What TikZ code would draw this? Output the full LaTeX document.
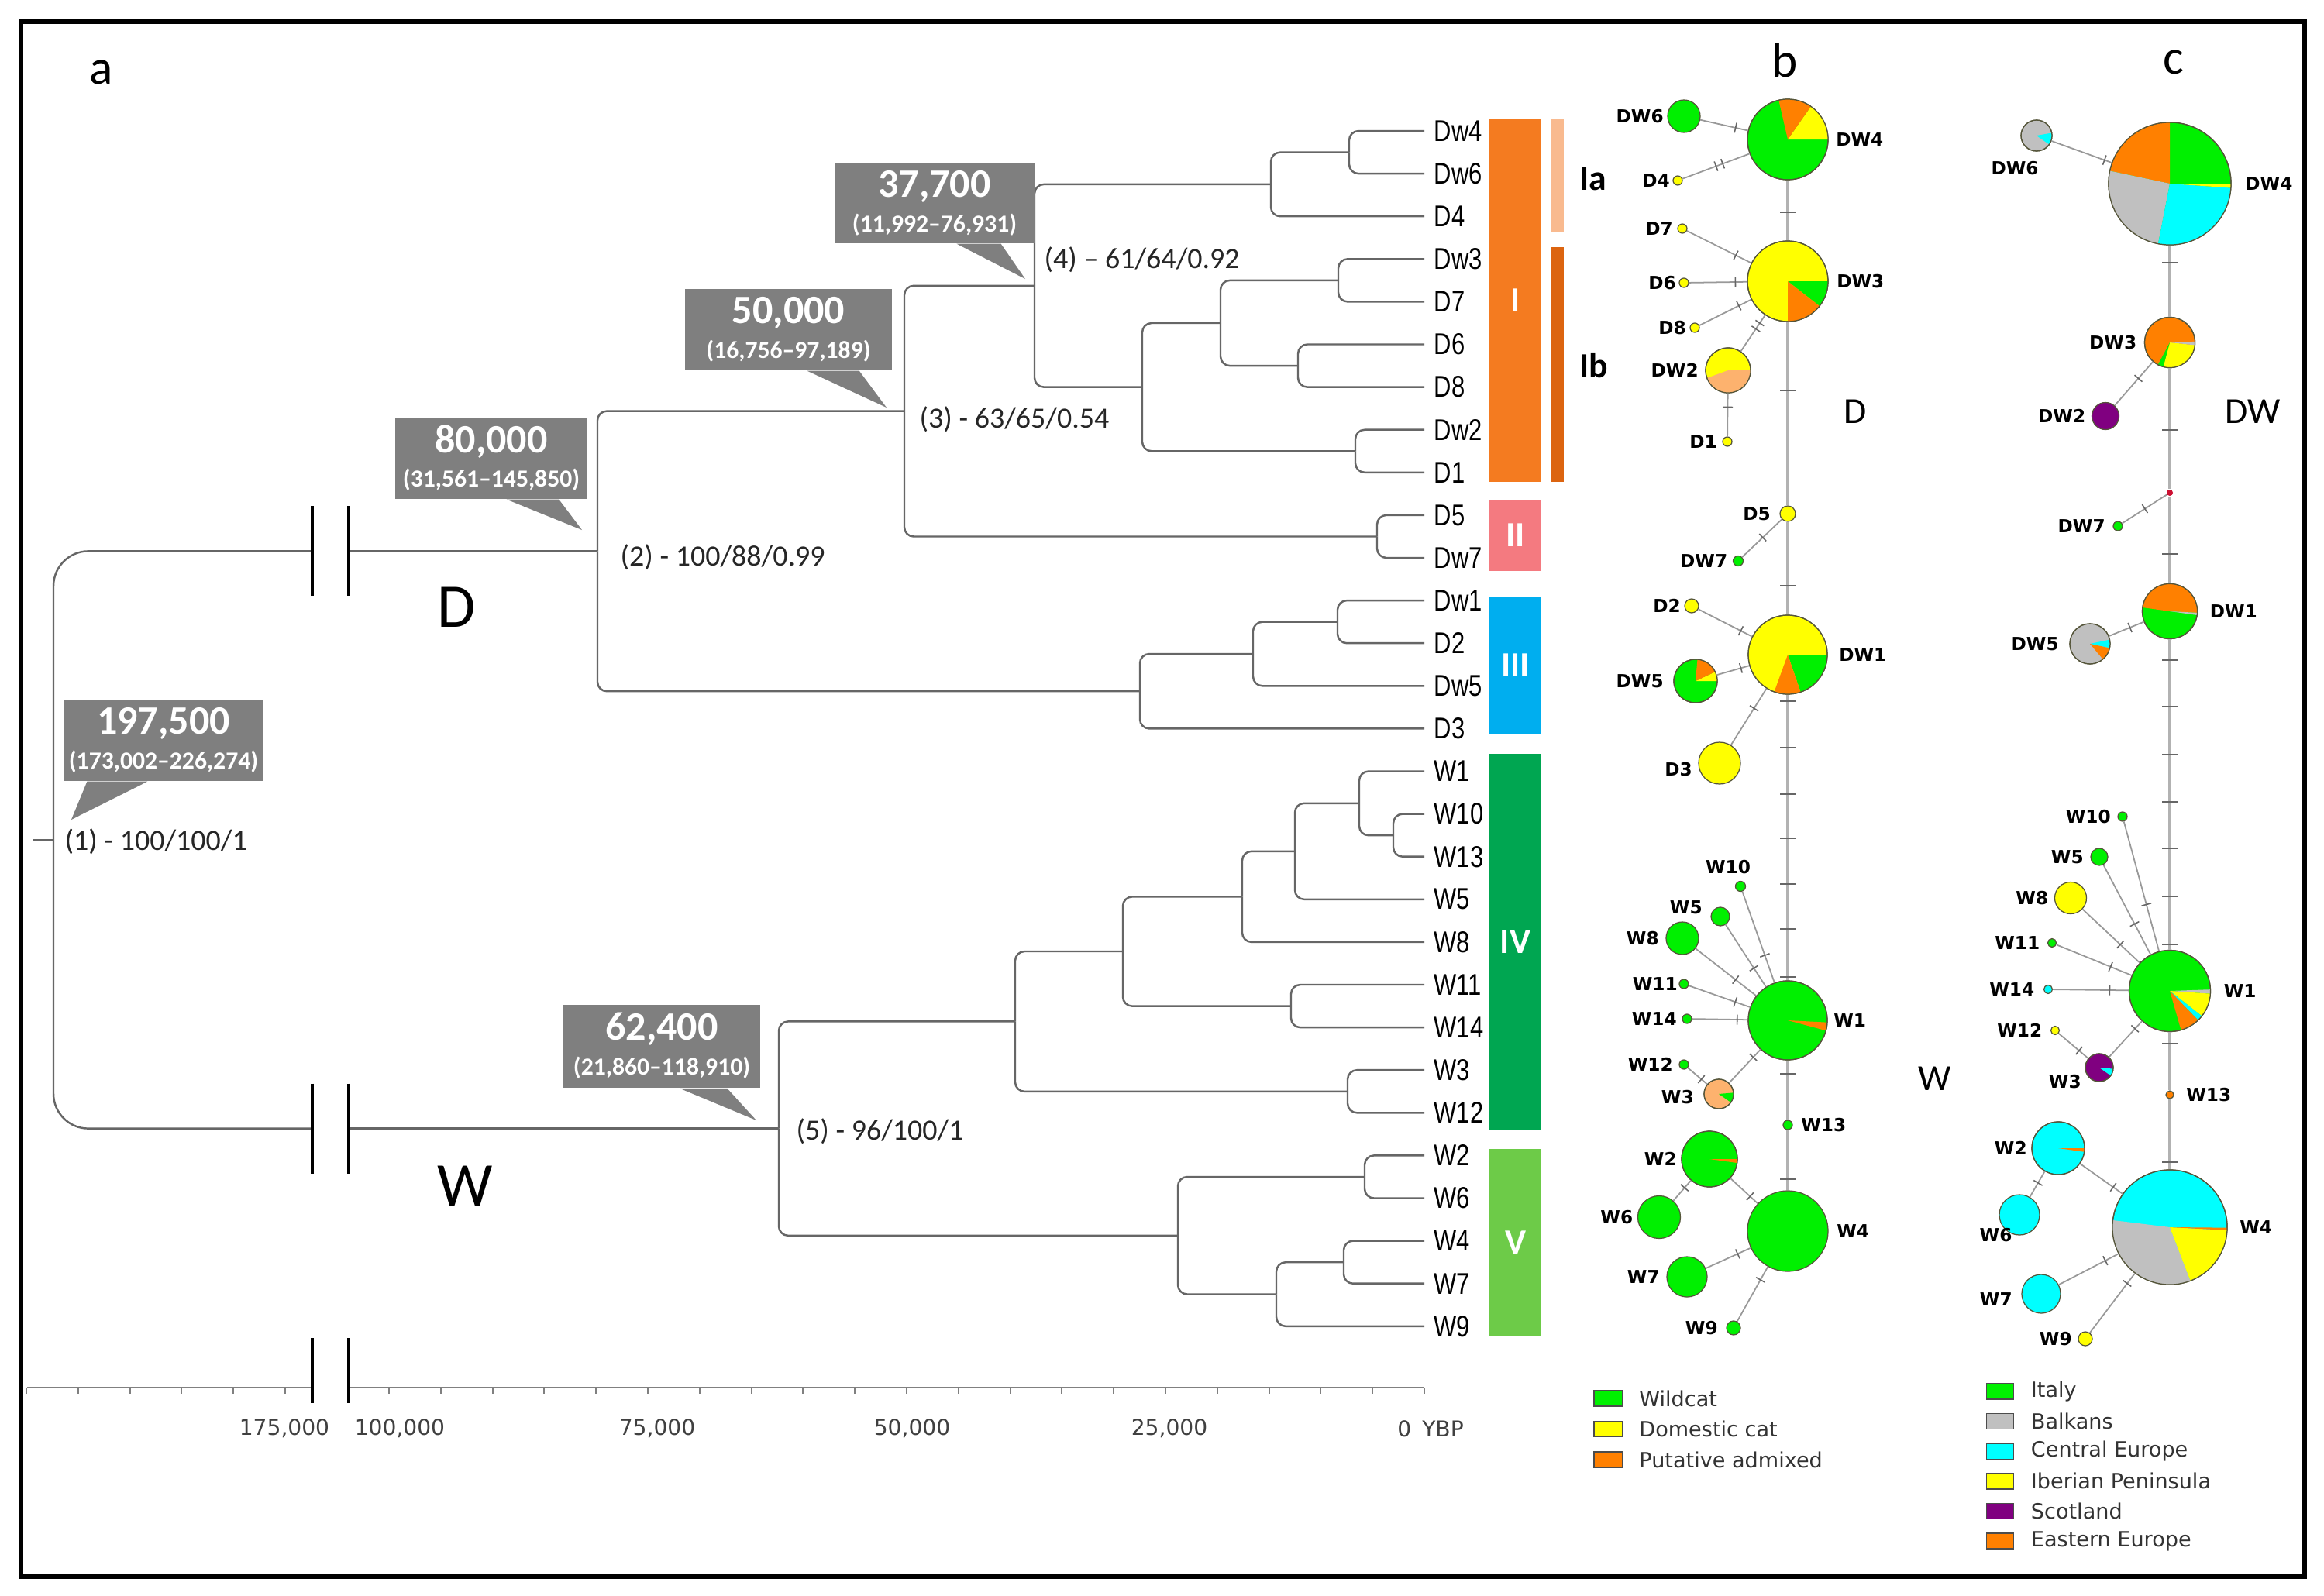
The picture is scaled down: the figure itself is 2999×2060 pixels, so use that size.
\documentclass[tikz,border=0pt]{standalone}
\usepackage{fontspec}
\setmainfont{Carlito}
\newfontfamily\leaffont[FakeStretch=0.8]{Liberation Sans}
\newfontfamily\netfont{DejaVu Sans}
\usetikzlibrary{positioning,calc}

\definecolor{treegray}{HTML}{666666}
\definecolor{kgray}{HTML}{7F7F7F}
\definecolor{cI}{HTML}{F47B20}
\definecolor{cIa}{HTML}{F9BA8F}
\definecolor{cIb}{HTML}{DC6410}
\definecolor{cII}{HTML}{F47A80}
\definecolor{cIII}{HTML}{00AEEF}
\definecolor{cIV}{HTML}{00A651}
\definecolor{cV}{HTML}{6DCB48}
\definecolor{pgreen}{HTML}{00F000}
\definecolor{pyellow}{HTML}{FFFF00}
\definecolor{porange}{HTML}{FF8000}
\definecolor{ppeach}{HTML}{FDB26E}
\definecolor{pgrey}{HTML}{C0C0C0}
\definecolor{pcyan}{HTML}{00FFFF}
\definecolor{ppurple}{HTML}{800080}
\definecolor{pred}{HTML}{CC1133}
\definecolor{rimc}{HTML}{55553A}

% pie pieces
\newcommand{\pieslice}[5]{\fill[#5] (#1.center) -- ++(#3:#2) arc[start angle=#3, end angle=#4, radius=#2] -- cycle;}
\newcommand{\pierim}[2]{\draw[rimc, line width=0.35pt] (#1.center) circle[radius=#2];}

\begin{document}
\begin{tikzpicture}[x=0.01cm, y=-0.01cm,
  branch/.style={draw=treegray, line width=0.7pt, rounded corners=0.12cm},
  brk/.style={draw=black, line width=0.9pt},
  leaf/.style={anchor=west, inner xsep=0.12cm, inner ysep=0pt, text=black,
    font=\leaffont\fontsize{11}{13}\selectfont},
  supp/.style={anchor=west, inner sep=0pt, text=black!85, font=\fontsize{10.8}{12}\selectfont},
  kbox/.style={fill=kgray, inner sep=0pt},
  knum/.style={text=white, inner sep=0pt, font=\bfseries\fontsize{14.8}{16}\selectfont},
  ksub/.style={text=white, inner sep=0pt, font=\bfseries\fontsize{9}{10}\selectfont},
  bar/.style={minimum width=0.67cm, inner sep=0pt, text=white, font=\bfseries\fontsize{13}{15}\selectfont},
  subbar/.style={minimum width=0.17cm, inner sep=0pt},
  sublab/.style={inner sep=0pt, font=\bfseries\fontsize{13}{15}\selectfont},
  axis/.style={draw=black!50, line width=0.6pt},
  axlab/.style={inner sep=0pt, text=black!75, font=\netfont\fontsize{8}{9}\selectfont},
  hap/.style={circle, inner sep=0pt, minimum size=#1, draw=rimc, line width=0.35pt},
  hlab/.style={inner sep=0pt, font=\netfont\bfseries\fontsize{6.6}{7}\selectfont},
  net/.style={draw=black!40, line width=0.5pt},
  spine/.style={draw=black!30, line width=1.1pt},
  mut/.style={sloped, draw=black!60, line width=0.45pt, inner sep=0pt, minimum width=0pt, minimum height=0.13cm},
  mutline/.style={draw=black!60, line width=0.6pt},
  legbox/.style={draw=black!70, line width=0.4pt, minimum width=0.35cm, minimum height=0.2cm, inner sep=0pt},
  legtext/.style={anchor=west, inner sep=0pt, text=black!80, font=\netfont\fontsize{7.7}{9}\selectfont},
  panlab/.style={inner sep=0pt, font=\fontsize{18}{20}\selectfont},
  biglab/.style={inner sep=0pt, font=\fontsize{22.8}{24}\selectfont},
  netlab/.style={inner sep=0pt, font=\fontsize{13.5}{15}\selectfont}]

  \useasboundingbox (0,0) rectangle (2999,2060);
  \fill[white] (0,0) rectangle (2999,2060);
  \draw[line width=1.5pt] (27,28) rectangle (2974,2035);

  % panel letters
  \node[panlab] at (131,93) {a};
  \node[panlab] at (2303,78) {b};
  \node[panlab] at (2805,80) {c};

  % leaves
  \foreach \nm [count=\i from 0] in {Dw4,Dw6,D4,Dw3,D7,D6,D8,Dw2,D1,D5,Dw7,Dw1,D2,Dw5,D3,
      W1,W10,W13,W5,W8,W11,W14,W3,W12,W2,W6,W4,W7,W9}
    \node[leaf] (l\nm) at (1838,{169+55.1*\i}) {\nm};

  % internal nodes
  \coordinate (nDw4) at (1741,196.6);
  \coordinate (nIa) at (1640,237.9);
  \coordinate (nDw3) at (1727,361.9);
  \coordinate (nD6) at (1675,472.1);
  \coordinate (nDw3D6) at (1575,417);
  \coordinate (nDw2) at (1749,582.3);
  \coordinate (nIb) at (1474,499.6);
  \coordinate (n4) at (1335,368.8);
  \coordinate (nD5) at (1777,692.5);
  \coordinate (n3) at (1167,530.6);
  \coordinate (nDw1) at (1726,802.7);
  \coordinate (nDw5) at (1617,844);
  \coordinate (nIII) at (1471,892.2);
  \coordinate (n2) at (771,711.4);
  \coordinate (nW10) at (1798,1078.2);
  \coordinate (nW1) at (1754,1036.8);
  \coordinate (nW5) at (1671,1098.8);
  \coordinate (nW8) at (1603,1157.4);
  \coordinate (nW11) at (1666,1298.6);
  \coordinate (nW8W11) at (1449,1228);
  \coordinate (nW3) at (1739,1408.8);
  \coordinate (nIV) at (1310,1318.4);
  \coordinate (nW2) at (1761,1519);
  \coordinate (nW4) at (1734,1629.2);
  \coordinate (nW9) at (1647,1670.5);
  \coordinate (nV) at (1520,1594.8);
  \coordinate (n5) at (1005,1456.6);
  \coordinate (root) at (69,1084);
  \coordinate (rootstub) at (43,1084);
  \coordinate (brkD1) at (403,711.4);
  \coordinate (brkD2) at (450,711.4);
  \coordinate (brkW1) at (403,1456.6);
  \coordinate (brkW2) at (450,1456.6);

  % branches
  \foreach \a/\b in {nDw4/lDw4.west, nDw4/lDw6.west, nIa/nDw4, nIa/lD4.west,
      nDw3/lDw3.west, nDw3/lD7.west, nD6/lD6.west, nD6/lD8.west,
      nDw3D6/nDw3, nDw3D6/nD6, nDw2/lDw2.west, nDw2/lD1.west,
      nIb/nDw3D6, nIb/nDw2, n4/nIa, n4/nIb, nD5/lD5.west, nD5/lDw7.west,
      n3/n4, n3/nD5, nDw1/lDw1.west, nDw1/lD2.west, nDw5/nDw1, nDw5/lDw5.west,
      nIII/nDw5, nIII/lD3.west, n2/n3, n2/nIII}
    \draw[branch] (\a) |- (\b);
  \foreach \a/\b in {nW10/lW10.west, nW10/lW13.west, nW1/lW1.west, nW1/nW10,
      nW5/nW1, nW5/lW5.west, nW8/nW5, nW8/lW8.west, nW11/lW11.west, nW11/lW14.west,
      nW8W11/nW8, nW8W11/nW11, nW3/lW3.west, nW3/lW12.west, nIV/nW8W11, nIV/nW3,
      nW2/lW2.west, nW2/lW6.west, nW4/lW4.west, nW4/lW7.west, nW9/nW4, nW9/lW9.west,
      nV/nW2, nV/nW9, n5/nIV, n5/nV}
    \draw[branch] (\a) |- (\b);
  \draw[branch, rounded corners=0.45cm] (root) |- (brkD1);
  \draw[branch, rounded corners=0.45cm] (root) |- (brkW1);
  \draw[branch] (brkD2) -- (n2);
  \draw[branch] (brkW2) -- (n5);
  \draw[branch] (root) -- (rootstub);
  \foreach \c in {brkD1,brkD2,brkW1,brkW2}
    \draw[brk] ($(\c)+(0,-58)$) -- ($(\c)+(0,58)$);

  \node[biglab] at (589,784) {D};
  \node[biglab] at (600,1531) {W};

  % support values
  \node[supp] at (83,1086) {(1) - 100/100/1};
  \node[supp] at (800,719) {(2) - 100/88/0.99};
  \node[supp] at (1186,541) {(3) - 63/65/0.54};
  \node[supp] at (1347,335) {(4) – 61/64/0.92};
  \node[supp] at (1027,1460) {(5) - 96/100/1};

  % dating callouts
  \node[kbox, minimum width=2.58cm, minimum height=1.05cm] (k197) at (211,955.5) {};
  \coordinate (k197tip) at (92,1058);
  \fill[kgray] ($(k197.south west)!0.12!(k197.south east)$) -- (k197tip)
    -- ($(k197.south west)!0.42!(k197.south east)$) -- cycle;
  \node[knum] at ($(k197.north)+(0,32)$) {197,500};
  \node[ksub] at ($(k197.north)+(0,81)$) {(173,002–226,274)};

  \node[kbox, minimum width=2.48cm, minimum height=1.05cm] (k80) at (634,591.5) {};
  \coordinate (k80tip) at (751,684);
  \fill[kgray] ($(k80.south west)!0.58!(k80.south east)$) -- (k80tip)
    -- ($(k80.south west)!0.85!(k80.south east)$) -- cycle;
  \node[knum] at ($(k80.north)+(0,32)$) {80,000};
  \node[ksub] at ($(k80.north)+(0,81)$) {(31,561–145,850)};

  \node[kbox, minimum width=2.67cm, minimum height=1.05cm] (k50) at (1017.5,425.5) {};
  \coordinate (k50tip) at (1144,526);
  \fill[kgray] ($(k50.south west)!0.59!(k50.south east)$) -- (k50tip)
    -- ($(k50.south west)!0.84!(k50.south east)$) -- cycle;
  \node[knum] at ($(k50.north)+(0,32)$) {50,000};
  \node[ksub] at ($(k50.north)+(0,81)$) {(16,756–97,189)};

  \node[kbox, minimum width=2.58cm, minimum height=1.04cm] (k377) at (1206,262) {};
  \coordinate (k377tip) at (1323,360);
  \fill[kgray] ($(k377.south west)!0.61!(k377.south east)$) -- (k377tip)
    -- ($(k377.south west)!0.83!(k377.south east)$) -- cycle;
  \node[knum] at ($(k377.north)+(0,32)$) {37,700};
  \node[ksub] at ($(k377.north)+(0,81)$) {(11,992–76,931)};

  \node[kbox, minimum width=2.54cm, minimum height=1.07cm] (k624) at (854,1350.5) {};
  \coordinate (k624tip) at (976,1446);
  \fill[kgray] ($(k624.south west)!0.59!(k624.south east)$) -- (k624tip)
    -- ($(k624.south west)!0.83!(k624.south east)$) -- cycle;
  \node[knum] at ($(k624.north)+(0,32)$) {62,400};
  \node[ksub] at ($(k624.north)+(0,82)$) {(21,860–118,910)};

  % clade bars
  \node[bar, fill=cI, minimum height=4.69cm] (barI) at (1955.5,387.5) {I};
  \node[bar, fill=cII, minimum height=0.92cm] (barII) at (1955.5,691) {II};
  \node[bar, fill=cIII, minimum height=1.77cm] (barIII) at (1955.5,858.5) {III};
  \node[bar, fill=cIV, minimum height=4.85cm] (barIV) at (1955.5,1215.5) {IV};
  \node[bar, fill=cV, minimum height=2.41cm] (barV) at (1955.5,1603.5) {V};
  \node[subbar, fill=cIa, minimum height=1.47cm] (barIa) at (2009.5,226.5) {};
  \node[subbar, fill=cIb, minimum height=3.03cm] (barIb) at (2009.5,470.5) {};
  \node[sublab, anchor=west] at (2038,231) {Ia};
  \node[sublab, anchor=west] at (2038,472) {Ib};

  % time axis
  \coordinate (axL) at (35,1791);
  \coordinate (brkA1) at (403,1791);
  \coordinate (brkA2) at (450,1791);
  \coordinate (ax0) at (1838,1791);
  \draw[axis] (axL) -- (brkA1);
  \draw[axis] (brkA2) -- (ax0);
  \foreach \k in {0,...,5}
    \draw[axis] ({368-66.8*\k},1791) -- ++(0,8);
  \foreach \k in {0,...,20}
    \draw[axis] ({502+66.8*\k},1791) -- ++(0,8);
  \foreach \c in {brkA1,brkA2}
    \draw[brk] ($(\c)+(0,-64)$) -- ($(\c)+(0,20)$);
  \node[axlab] at (367,1844) {175,000};
  \node[axlab] at (516,1844) {100,000};
  \node[axlab] at (848,1844) {75,000};
  \node[axlab] at (1177,1844) {50,000};
  \node[axlab] at (1509,1844) {25,000};
  \node[axlab] at (1846,1844) {0\enspace YBP};

  % ---------------- network b ----------------
  \node[hap=1.04cm, fill=pgreen] (bDW4) at (2307,180) {};
  \pieslice{bDW4}{0.52cm}{0}{55}{pyellow}
  \pieslice{bDW4}{0.52cm}{55}{103}{porange}
  \pierim{bDW4}{0.52cm}
  \node[hap=0.42cm, fill=pgreen] (bDW6) at (2173,150) {};
  \node[hap=0.12cm, fill=pyellow] (bD4) at (2165,233) {};
  \node[hap=1.04cm, fill=pyellow] (bDW3) at (2307,363) {};
  \pieslice{bDW3}{0.52cm}{-38}{0}{pgreen}
  \pieslice{bDW3}{0.52cm}{-90}{-38}{porange}
  \pierim{bDW3}{0.52cm}
  \node[hap=0.12cm, fill=pyellow] (bD7) at (2171,295) {};
  \node[hap=0.12cm, fill=pyellow] (bD6) at (2173,365) {};
  \node[hap=0.12cm, fill=pyellow] (bD8) at (2187,423) {};
  \node[hap=0.58cm, fill=pyellow] (bDW2) at (2230,478) {};
  \pieslice{bDW2}{0.29cm}{200}{360}{ppeach}
  \pierim{bDW2}{0.29cm}
  \node[hap=0.12cm, fill=pyellow] (bD1) at (2229,570) {};
  \node[hap=0.20cm, fill=pyellow] (bD5) at (2307,663) {};
  \node[hap=0.13cm, fill=pgreen] (bDW7) at (2243,724) {};
  \node[hap=0.18cm, fill=pyellow] (bD2) at (2183,782) {};
  \node[hap=1.02cm, fill=pyellow] (bDW1) at (2307,845) {};
  \pieslice{bDW1}{0.51cm}{-71}{0}{pgreen}
  \pieslice{bDW1}{0.51cm}{-110}{-71}{porange}
  \pierim{bDW1}{0.51cm}
  \node[hap=0.56cm, fill=pgreen] (bDW5) at (2188,879) {};
  \pieslice{bDW5}{0.28cm}{0}{25}{pyellow}
  \pieslice{bDW5}{0.28cm}{25}{85}{porange}
  \pierim{bDW5}{0.28cm}
  \node[hap=0.54cm, fill=pyellow] (bD3) at (2219,985) {};

  % network b, W part
  \node[hap=1.02cm, fill=pgreen] (bW1) at (2307,1317) {};
  \pieslice{bW1}{0.51cm}{-15}{-3}{porange}
  \pierim{bW1}{0.51cm}
  \node[hap=0.13cm, fill=pgreen] (bW10) at (2246,1144) {};
  \node[hap=0.24cm, fill=pgreen] (bW5) at (2220,1183) {};
  \node[hap=0.42cm, fill=pgreen] (bW8) at (2171,1211) {};
  \node[hap=0.12cm, fill=pgreen] (bW11) at (2173,1270) {};
  \node[hap=0.12cm, fill=pgreen] (bW14) at (2177,1315) {};
  \node[hap=0.12cm, fill=pgreen] (bW12) at (2173,1374) {};
  \node[hap=0.38cm, fill=ppeach] (bW3) at (2218,1412) {};
  \pieslice{bW3}{0.19cm}{-35}{5}{pgreen}
  \pierim{bW3}{0.19cm}
  \node[hap=0.12cm, fill=pgreen] (bW13) at (2307,1452) {};
  \node[hap=0.72cm, fill=pgreen] (bW2) at (2206,1496) {};
  \pieslice{bW2}{0.36cm}{-8}{0}{porange}
  \pierim{bW2}{0.36cm}
  \node[hap=0.55cm, fill=pgreen] (bW6) at (2141,1571) {};
  \node[hap=1.04cm, fill=pgreen] (bW4) at (2307,1589) {};
  \node[hap=0.52cm, fill=pgreen] (bW7) at (2177,1648) {};
  \node[hap=0.18cm, fill=pgreen] (bW9) at (2237,1714) {};

  % links b
  \draw[spine] (bDW4) -- (bDW3) -- (bD5) -- (bDW1) -- (bW1) -- (bW13) -- (bW4);
  \foreach \ty in {274,504,756,905,965,1025,1082,1141,1199,1261,1386,1522}
    \draw[mutline] (2297,\ty) -- (2317,\ty);
  \draw[net] (bDW6) -- node[mut, pos=.74] {} (bDW4);
  \draw[net] (bD4) -- node[mut, pos=.5] {} node[mut, pos=.6] {} (bDW4);
  \draw[net] (bD7) -- node[mut, pos=.76] {} (bDW3);
  \draw[net] (bD6) -- node[mut, pos=.8] {} (bDW3);
  \draw[net] (bD8) -- node[mut, pos=.76] {} (bDW3);
  \draw[net] (bDW2) -- node[mut, pos=.62] {} node[mut, pos=.78] {} (bDW3);
  \draw[net] (bDW2) -- node[mut, pos=.32] {} (bD1);
  \draw[net] (bD5) -- node[mut, pos=.48] {} (bDW7);
  \draw[net] (bD2) -- node[mut, pos=.79] {} (bDW1);
  \draw[net] (bDW5) -- node[mut, pos=.74] {} (bDW1);
  \draw[net] (bD3) -- node[mut, pos=.65] {} (bDW1);
  \draw[net] (bW10) -- node[mut, pos=.70] {} (bW1);
  \draw[net] (bW5) -- node[mut, pos=.70] {} (bW1);
  \draw[net] (bW8) -- node[mut, pos=.66] {} (bW1);
  \draw[net] (bW11) -- node[mut, pos=.76] {} (bW1);
  \draw[net] (bW14) -- node[mut, pos=.81] {} (bW1);
  \draw[net] (bW12) -- node[mut, pos=.7] {} (bW3);
  \draw[net] (bW3) -- node[mut, pos=.77] {} (bW1);
  \draw[net] (bW2) -- node[mut, pos=.72] {} (bW4);
  \draw[net] (bW6) -- node[mut, pos=.64] {} (bW2);
  \draw[net] (bW7) -- node[mut, pos=.71] {} (bW4);
  \draw[net] (bW9) -- node[mut, pos=.76] {} (bW4);

  % labels b
  \node[hlab, left=0.04cm of bDW6] {DW6};
  \node[hlab, right=0.09cm of bDW4] {DW4};
  \node[hlab, left=0.03cm of bD4] {D4};
  \node[hlab, left=0.05cm of bD7] {D7};
  \node[hlab, left=0.03cm of bD6] {D6};
  \node[hlab, left=0.04cm of bD8] {D8};
  \node[hlab, right=0.1cm of bDW3] {DW3};
  \node[hlab, left=0.08cm of bDW2] {DW2};
  \node[hlab, left=0.06cm of bD1] {D1};
  \node[hlab, left=0.11cm of bD5] {D5};
  \node[hlab, left=0.06cm of bDW7] {DW7};
  \node[hlab, left=0.04cm of bD2] {D2};
  \node[hlab, right=0.14cm of bDW1] {DW1};
  \node[hlab, left=0.12cm of bDW5] {DW5};
  \node[hlab, left=0.07cm of bD3, yshift=-0.08cm] {D3};
  \node[hlab, above=0.08cm of bW10, xshift=-0.16cm] {W10};
  \node[hlab, left=0.1cm of bW5, yshift=0.12cm] {W5};
  \node[hlab, left=0.08cm of bW8] {W8};
  \node[hlab, left=0.01cm of bW11] {W11};
  \node[hlab, left=0.06cm of bW14] {W14};
  \node[hlab, right=0.07cm of bW1] {W1};
  \node[hlab, left=0.07cm of bW12] {W12};
  \node[hlab, left=0.12cm of bW3, yshift=-0.04cm] {W3};
  \node[hlab, right=0.1cm of bW13] {W13};
  \node[hlab, left=0.05cm of bW2] {W2};
  \node[hlab, left=0.05cm of bW6] {W6};
  \node[hlab, right=0.1cm of bW4] {W4};
  \node[hlab, left=0.08cm of bW7] {W7};
  \node[hlab, left=0.1cm of bW9] {W9};
  \node[netlab] at (2394,531) {D};
  \node[netlab] at (2497,1392) {W};

  % ---------------- network c ----------------
  \node[hap=1.58cm, fill=pgreen] (cDW4) at (2800,237) {};
  \pieslice{cDW4}{0.79cm}{90}{168}{porange}
  \pieslice{cDW4}{0.79cm}{168}{259}{pgrey}
  \pieslice{cDW4}{0.79cm}{259}{356}{pcyan}
  \pieslice{cDW4}{0.79cm}{356}{360}{pyellow}
  \pierim{cDW4}{0.79cm}
  \node[hap=0.40cm, fill=pgrey] (cDW6) at (2628,175) {};
  \pieslice{cDW6}{0.2cm}{-35}{10}{pcyan}
  \pierim{cDW6}{0.2cm}
  \node[hap=0.65cm, fill=porange] (cDW3) at (2800,442) {};
  \pieslice{cDW3}{0.325cm}{-105}{-6}{pyellow}
  \pieslice{cDW3}{0.325cm}{-6}{2}{pgrey}
  \pieslice{cDW3}{0.325cm}{-118}{-105}{pgreen}
  \pierim{cDW3}{0.325cm}
  \node[hap=0.35cm, fill=ppurple] (cDW2) at (2717,537) {};
  \node[circle, inner sep=0pt, minimum size=0.08cm, fill=pred] (cMV) at (2800,636) {};
  \node[hap=0.12cm, fill=pgreen] (cDW7) at (2733,679) {};
  \node[hap=0.71cm, fill=pgreen] (cDW1) at (2800,789) {};
  \pieslice{cDW1}{0.355cm}{-3}{172}{porange}
  \pieslice{cDW1}{0.355cm}{-8}{-3}{pgrey}
  \pierim{cDW1}{0.355cm}
  \node[hap=0.52cm, fill=pgrey] (cDW5) at (2697,831) {};
  \pieslice{cDW5}{0.26cm}{-12}{12}{pcyan}
  \pieslice{cDW5}{0.26cm}{-50}{-12}{porange}
  \pierim{cDW5}{0.26cm}

  % network c, W part
  \node[hap=1.05cm, fill=pgreen] (cW1) at (2800,1279) {};
  \pieslice{cW1}{0.525cm}{-4}{2}{pgrey}
  \pieslice{cW1}{0.525cm}{-38}{-4}{pyellow}
  \pieslice{cW1}{0.525cm}{-46}{-38}{pcyan}
  \pieslice{cW1}{0.525cm}{-74}{-46}{porange}
  \pierim{cW1}{0.525cm}
  \node[hap=0.12cm, fill=pgreen] (cW10) at (2739,1054) {};
  \node[hap=0.22cm, fill=pgreen] (cW5) at (2709,1106) {};
  \node[hap=0.41cm, fill=pyellow] (cW8) at (2672,1159) {};
  \node[hap=0.11cm, fill=pgreen] (cW11) at (2648,1217) {};
  \node[hap=0.11cm, fill=pcyan] (cW14) at (2643,1277) {};
  \node[hap=0.11cm, fill=pyellow] (cW12) at (2652,1330) {};
  \node[hap=0.36cm, fill=ppurple] (cW3) at (2709,1378) {};
  \pieslice{cW3}{0.18cm}{-35}{-5}{pcyan}
  \pierim{cW3}{0.18cm}
  \node[hap=0.10cm, fill=porange] (cW13) at (2800,1413) {};
  \node[hap=0.68cm, fill=pcyan] (cW2) at (2656,1482) {};
  \pieslice{cW2}{0.34cm}{-8}{0}{porange}
  \pierim{cW2}{0.34cm}
  \node[hap=0.52cm, fill=pcyan] (cW6) at (2606,1568) {};
  \node[hap=1.48cm, fill=pcyan] (cW4) at (2800,1584) {};
  \pieslice{cW4}{0.74cm}{173}{291}{pgrey}
  \pieslice{cW4}{0.74cm}{291}{357}{pyellow}
  \pieslice{cW4}{0.74cm}{357}{359.5}{porange}
  \pierim{cW4}{0.74cm}
  \node[hap=0.50cm, fill=pcyan] (cW7) at (2634,1670) {};
  \node[hap=0.18cm, fill=pyellow] (cW9) at (2691,1728) {};

  % links c
  \draw[spine] (cDW4) -- (cDW3) -- (cMV) -- (cDW1) -- (cW1) -- (cW13) -- (cW4);
  \foreach \ty in {339,555,715,852,912,974,1035,1095,1157,1219,1347,1500}
    \draw[mutline] (2790,\ty) -- (2810,\ty);
  \draw[net] (cDW6) -- node[mut, pos=.88] {} (cDW4);
  \draw[net] (cDW3) -- node[mut, pos=.38] {} (cDW2);
  \draw[net] (cMV) -- node[mut, pos=.49] {} (cDW7);
  \draw[net] (cDW5) -- node[mut, pos=.6] {} (cDW1);
  \draw[net] (cW10) -- node[mut, pos=.64] {} (cW1);
  \draw[net] (cW5) -- node[mut, pos=.66] {} (cW1);
  \draw[net] (cW8) -- node[mut, pos=.66] {} (cW1);
  \draw[net] (cW11) -- node[mut, pos=.72] {} (cW1);
  \draw[net] (cW14) -- node[mut, pos=.75] {} (cW1);
  \draw[net] (cW12) -- node[mut, pos=.69] {} (cW3);
  \draw[net] (cW3) -- node[mut, pos=.79] {} (cW1);
  \draw[net] (cW2) -- node[mut, pos=.78] {} (cW4);
  \draw[net] (cW6) -- node[mut, pos=.55] {} (cW2);
  \draw[net] (cW7) -- node[mut, pos=.78] {} (cW4);
  \draw[net] (cW9) -- node[mut, pos=.83] {} (cW4);

  % labels c
  \node[hlab, below=0.12cm of cDW6, xshift=-0.28cm] {DW6};
  \node[hlab, right=0.17cm of cDW4] {DW4};
  \node[hlab, left=0.09cm of cDW3] {DW3};
  \node[hlab, left=0.07cm of cDW2] {DW2};
  \node[hlab, left=0.09cm of cDW7] {DW7};
  \node[hlab, right=0.15cm of cDW1] {DW1};
  \node[hlab, left=0.13cm of cDW5] {DW5};
  \node[hlab, left=0.08cm of cW10] {W10};
  \node[hlab, left=0.08cm of cW5] {W5};
  \node[hlab, left=0.07cm of cW8] {W8};
  \node[hlab, left=0.09cm of cW11] {W11};
  \node[hlab, left=0.11cm of cW14] {W14};
  \node[hlab, left=0.1cm of cW12] {W12};
  \node[hlab, left=0.04cm of cW3, yshift=-0.18cm] {W3};
  \node[hlab, right=0.16cm of cW1] {W1};
  \node[hlab, right=0.15cm of cW13] {W13};
  \node[hlab, left=0.05cm of cW2] {W2};
  \node[hlab, anchor=north east] at ([shift={(0.1cm,0.02cm)}]cW6.south west) {W6};
  \node[hlab, right=0.15cm of cW4] {W4};
  \node[hlab, left=0.11cm of cW7, yshift=-0.07cm] {W7};
  \node[hlab, left=0.07cm of cW9] {W9};
  \node[netlab] at (2907,531) {DW};

  % legends
  \foreach \col/\txt [count=\i from 0] in {pgreen/Wildcat, pyellow/Domestic cat, porange/Putative admixed} {
    \node[legbox, minimum width=0.37cm, fill=\col] (kb\i) at (2075.5,{1805+39.5*\i}) {};
    \node[legtext, right=0.2cm of kb\i] {\txt};
  }
  \foreach \col/\txt [count=\i from 0] in {pgreen/Italy, pgrey/Balkans, pcyan/Central Europe,
      pyellow/Iberian Peninsula, ppurple/Scotland, porange/Eastern Europe} {
    \node[legbox, fill=\col] (kc\i) at (2581,{1796+38.6*\i}) {};
    \node[legtext, right=0.21cm of kc\i] {\txt};
  }
\end{tikzpicture}
\end{document}
